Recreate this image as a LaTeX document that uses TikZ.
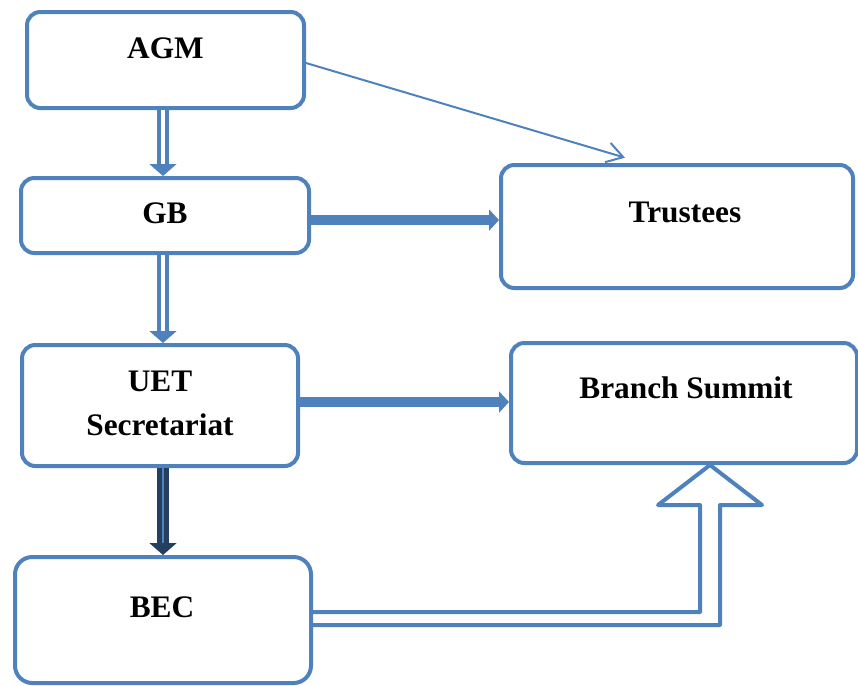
\documentclass[tikz,border=0pt]{standalone}
\usepackage{fontspec}
\setmainfont{Liberation Serif}
\usepackage{tikz}
\usetikzlibrary{arrows.meta,calc}
\definecolor{wordblue}{HTML}{4F81BD}
\definecolor{darkblue}{HTML}{243F60}
\tikzset{
	org chart/.style={
		box/.style={draw=wordblue,line width=3pt,rounded corners=10pt,inner sep=0pt},
		txt/.style={font=\fontsize{23.5}{33}\selectfont\bfseries,align=center,inner sep=0pt},
		dbl/.style={draw=wordblue,line width=8.9pt,-{Triangle[length=9pt,width=20pt]},
			postaction={draw=white,line width=2.4pt,-,shorten >=9pt}},
		dark/.style={draw=darkblue,line width=9pt,-{Triangle[length=9pt,width=20pt]},
			postaction={draw=wordblue,line width=1.2pt,-,shorten >=9pt}},
		thick ar/.style={draw=wordblue,line width=7.2pt,-{Triangle[length=7.5pt,width=15.75pt]}},
		thin ar/.style={draw=wordblue,line width=1.5pt,-{Straight Barb[length=12pt,width=15pt]}},
		hollow/.style={draw=wordblue,line width=3pt,line join=round}
	}
}
\begin{document}
\begin{tikzpicture}[org chart,x=0.75pt,y=-0.75pt]
	\useasboundingbox (0,0) rectangle (858,686);
	\node[box,minimum width=207.75pt,minimum height=72pt,
		label={[txt,yshift=9pt]center:AGM}] (agm) at (165.5,60) {};
	\node[box,minimum width=216pt,minimum height=56.25pt,
		label={[txt,yshift=1.9pt]center:GB}] (gb) at (165,215.5) {};
	\node[box,minimum width=264pt,minimum height=92.25pt,
		label={[txt,xshift=6pt,yshift=10.9pt]center:Trustees}] (trustees) at (677,226.5) {};
	\node[box,minimum width=207pt,minimum height=90.75pt,
		label={[txt,yshift=1.5pt]center:UET\\Secretariat}] (uet) at (160,405.5) {};
	\node[box,minimum width=259.5pt,minimum height=90pt,
		label={[txt,xshift=1.5pt,yshift=11.25pt]center:Branch Summit}] (summit) at (684,403) {};
	\node[box,rounded corners=13pt,minimum width=222pt,minimum height=94.5pt,
		label={[txt,xshift=-0.75pt,yshift=9.75pt]center:BEC}] (bec) at (163,620) {};
	\coordinate (tip) at ($(summit.south)+(26,0)$);
	% vertical links
	\draw[dbl] ([xshift=-1.9pt]agm.south) -- ([xshift=-1.9pt]agm.south |- gb.north);
	\draw[dbl] ([xshift=-1.5pt]gb.south) -- ([xshift=-1.5pt]gb.south |- uet.north);
	\draw[dark] ([xshift=2.25pt]uet.south) -- ([xshift=2.25pt]uet.south |- bec.north);
	% links to the right
	\draw[thick ar] ([yshift=-3.4pt]gb.east) -- ([yshift=-3.4pt]gb.east -| trustees.west);
	\draw[thick ar] ([yshift=2.6pt]uet.east) -- ([yshift=2.6pt]uet.east -| summit.west);
	\draw[thin ar] ([yshift=-2.25pt]agm.east) -- ([xshift=-39pt,yshift=4pt]trustees.north);
	\draw[hollow] ($(bec.east)+(0,-8)$) -| ($(tip)+(-10,40)$) -- ($(tip)+(-52,40)$) -- (tip)
		-- ($(tip)+(52,40)$) -- ($(tip)+(10,40)$) |- ($(bec.east)+(0,5)$);
\end{tikzpicture}
\end{document}
